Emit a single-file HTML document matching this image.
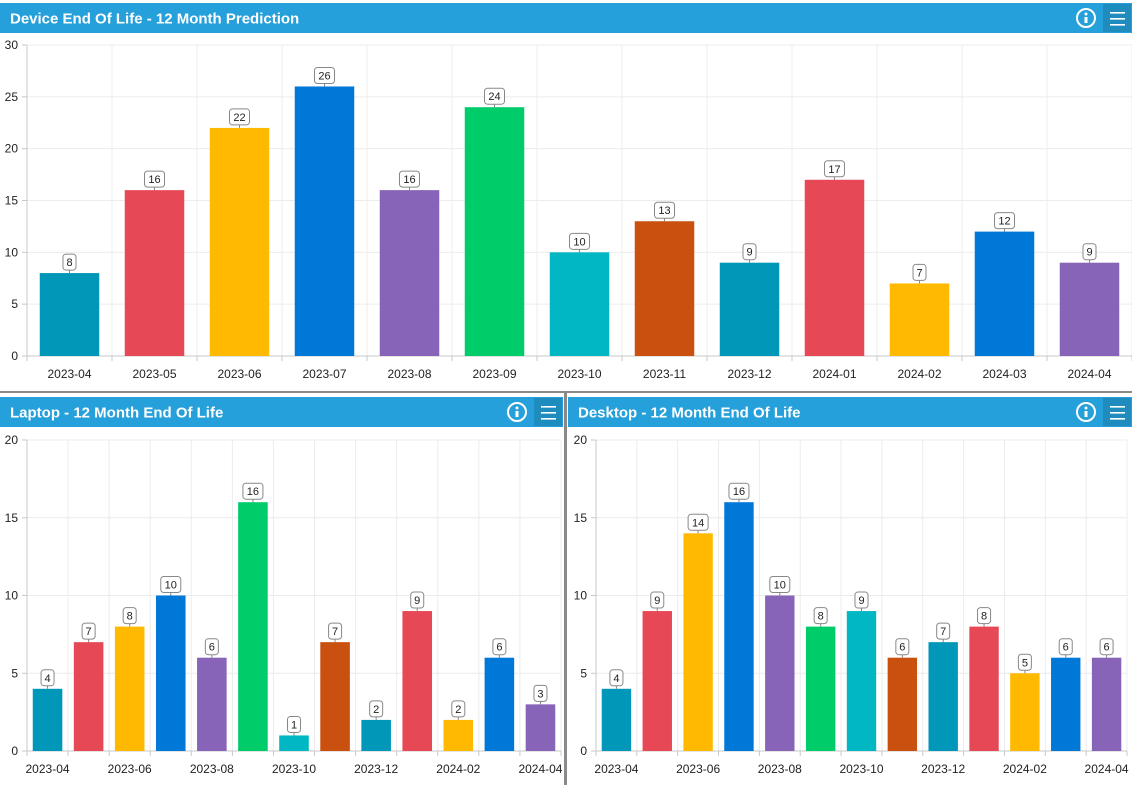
<!DOCTYPE html>
<html><head><meta charset="utf-8"><style>
html,body{margin:0;padding:0;background:#fff;width:1132px;height:785px;overflow:hidden;font-family:"Liberation Sans",sans-serif}
svg{position:absolute;left:0;top:0}
</style></head><body>
<svg id="s" width="1132" height="785"></svg>
<script>
const months=["2023-04","2023-05","2023-06","2023-07","2023-08","2023-09","2023-10","2023-11","2023-12","2024-01","2024-02","2024-03","2024-04"];
const totalValues=[8,16,22,26,16,24,10,13,9,17,7,12,9];
const laptopValues=[4,7,8,10,6,16,1,7,2,9,2,6,3];
const desktopValues=[4,9,14,16,10,8,9,6,7,8,5,6,6];
const yTicksTop=[0,5,10,15,20,25,30];
const yTicksBottom=[0,5,10,15,20];
const palette=["#0097b9","#e74856","#ffb900","#0078d7","#8764b8","#00cc6a","#00b7c3","#ca5010"];
const NS="http://www.w3.org/2000/svg";
const s=document.getElementById('s');
function el(t,a,p){const e=document.createElementNS(NS,t);for(const k in a)e.setAttribute(k,a[k]);(p||s).appendChild(e);return e;}
function txt(x,y,str,a,p){const e=el('text',Object.assign({x:x,y:y},a),p);e.textContent=str;return e;}

function header(x,w,y,h,title,name){
  const g=el('g',{});
  
  
  el('rect',{x:x,y:y,width:w,height:h,fill:'#26a0da'},g);
  const t=txt(x+10,y+h/2+5.5,title,{fill:'#fff','font-size':15,'font-weight':'bold'},g);
  
  
  const ig=el('g',{},g);
  
  
  const cx=x+w-46,cy=y+h/2;
  el('circle',{cx:cx,cy:cy,r:9,fill:'none',stroke:'#fff','stroke-width':2},ig);
  el('circle',{cx:cx,cy:cy-4,r:1.5,fill:'#fff'},ig);
  el('rect',{x:cx-1.5,y:cy-1,width:3,height:6,fill:'#fff'},ig);
  const mg=el('g',{},g);
  
  
  el('rect',{x:x+w-29,y:y+1,width:28,height:h-2,fill:'#1f8cc0'},mg);
  for(let i=0;i<3;i++)el('rect',{x:x+w-22,y:cy-6+i*6,width:15,height:1.6,fill:'#fff'},mg);
}

function chart(name,vals,ticks,ymax,x0,x1,yTop,yZero,labelEvery,barFrac){
  const g=el('g',{});
  
  
  const n=vals.length,step=(x1-x0)/n;
  const ys=v=>yZero-(v/ymax)*(yZero-yTop);
  const xs=i=>x0+i*step;
  ticks.forEach(t=>{
    const y=ys(t);
    if(t>0)el('line',{x1:x0,x2:x1,y1:y,y2:y,stroke:'#ececec'},g);
    el('line',{x1:x0-5,x2:x0,y1:y,y2:y,stroke:'#c8c8c8'},g);
    const l=txt(x0-9,y+4,String(t),{'text-anchor':'end','font-size':12,fill:'#222'},g);
    
    
  });
  for(let i=1;i<=n;i++)el('line',{x1:xs(i),x2:xs(i),y1:yTop,y2:yZero,stroke:'#ececec'},g);
  el('line',{x1:x0,x2:x0,y1:yTop,y2:yZero+5,stroke:'#c8c8c8'},g);
  el('line',{x1:x0,x2:x1,y1:yZero,y2:yZero,stroke:'#c8c8c8'},g);
  for(let i=0;i<=n;i++)el('line',{x1:xs(i),x2:xs(i),y1:yZero,y2:yZero+5,stroke:'#c8c8c8'},g);
  vals.forEach((v,i)=>{
    const bw=step*barFrac,cx=xs(i)+step/2,y=ys(v);
    const r=el('rect',{x:cx-bw/2,y:y,width:bw,height:yZero-y,fill:palette[i%palette.length]},g);
    
    
    const str=String(v),lw=str.length*7+6;
    el('line',{x1:cx,x2:cx,y1:y-3,y2:y,stroke:'#888'},g);
    const lb=el('rect',{x:cx-lw/2,y:y-19,width:lw,height:16,rx:3,fill:'#fff',stroke:'#888'},g);
    
    
    const lt=txt(cx,y-7,str,{'text-anchor':'middle','font-size':11,fill:'#222'},g);
    
    
    if(i%labelEvery===0){
      const xl=txt(cx,yZero+22,months[i],{'text-anchor':'middle','font-size':12,fill:'#222'},g);
      
      
    }
  });
}

header(0,1132,3,30,'Device End Of Life - 12 Month Prediction','device-eol');
chart('device-eol',totalValues,yTicksTop,30,27,1132,45,356,1,0.7);
el('rect',{x:0,y:391,width:1132,height:2,fill:'#8a8a8a'});
header(0,563,397,30,'Laptop - 12 Month End Of Life','laptop-eol');
header(568,564,397,30,'Desktop - 12 Month End Of Life','desktop-eol');
el('rect',{x:564,y:393,width:3,height:392,fill:'#8a8a8a'});
chart('laptop-eol',laptopValues,yTicksBottom,20,27,561,440,751,2,0.72);
chart('desktop-eol',desktopValues,yTicksBottom,20,596,1127,440,751,2,0.72);
</script>
</body></html>
